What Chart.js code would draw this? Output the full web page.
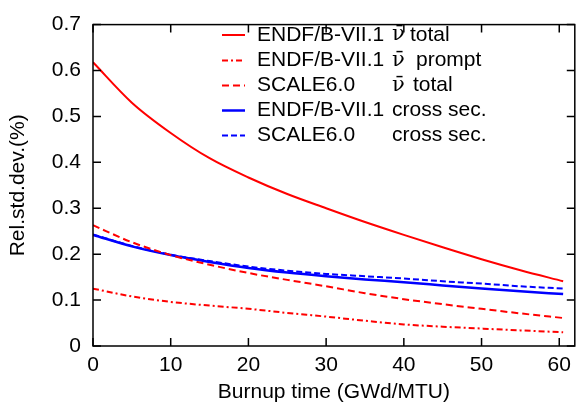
<!DOCTYPE html>
<html>
<head>
    <title>Rel. std. dev. vs burnup</title>
    <style>
        body { margin: 0px; background-color: #ffffff; }
    </style>
    <script src="https://cdn.jsdelivr.net/npm/chart.js"></script>
</head>
<body>
    <canvas id="myChart" width="578" height="412"></canvas>
<script>
// burnup steps (GWd/MTU)
const burnup = [0, 5, 10, 15, 20, 25, 30, 35, 40, 45, 50, 55, 60.5];

// relative standard deviation (%)
const endfNuTotal  = [0.618, 0.530, 0.464, 0.409, 0.367, 0.331, 0.300, 0.270, 0.242, 0.215, 0.189, 0.165, 0.141];
const endfNuPrompt = [0.125, 0.108, 0.096, 0.088, 0.081, 0.072, 0.064, 0.055, 0.047, 0.042, 0.038, 0.034, 0.030];
const scaleNuTotal = [0.263, 0.226, 0.198, 0.177, 0.159, 0.144, 0.130, 0.115, 0.102, 0.091, 0.081, 0.071, 0.061];
const endfXs       = [0.242, 0.217, 0.198, 0.183, 0.170, 0.160, 0.152, 0.145, 0.139, 0.132, 0.125, 0.119, 0.113];
const scaleXs      = [0.243, 0.218, 0.199, 0.185, 0.173, 0.164, 0.157, 0.152, 0.147, 0.141, 0.136, 0.130, 0.125];

// legend text, split into library / symbol / quantity columns
const libraryNames = ['ENDF/B-VII.1', 'ENDF/B-VII.1', 'SCALE6.0', 'ENDF/B-VII.1', 'SCALE6.0'];
const nuSymbols    = ['ν\u0304', 'ν\u0304', 'ν\u0304', '', ''];
const quantities   = ['total', 'prompt', 'total', 'cross sec.', 'cross sec.'];

// axis ticks
const xTicks = [0, 10, 20, 30, 40, 50, 60];
const yTicks = [0, 0.1, 0.2, 0.3, 0.4, 0.5, 0.6, 0.7];

const seriesValues = [endfNuTotal, endfNuPrompt, scaleNuTotal, endfXs, scaleXs];
const seriesStyles = [
    { color: '#ff0000', dash: [], width: 2 },
    { color: '#ff0000', dash: [6, 3, 2, 3], width: 2 },
    { color: '#ff0000', dash: [7, 4], width: 2 },
    { color: '#0000ff', dash: [], width: 2.5 },
    { color: '#0000ff', dash: [6, 3], width: 2 }
];

const FONT = 'Liberation Sans';

// frame plus inward ticks on all four sides (gnuplot look)
const framePlugin = {
    id: 'frame',
    afterDatasetsDraw(chart) {
        const ctx = chart.ctx;
        const a = chart.chartArea;
        const xs = chart.scales.x, ys = chart.scales.y;
        const len = 8;
        ctx.save();
        ctx.strokeStyle = '#000';
        ctx.lineWidth = 1.5;
        ctx.setLineDash([]);
        ctx.strokeRect(a.left, a.top, a.right - a.left, a.bottom - a.top);
        ctx.beginPath();
        xTicks.forEach(v => {
            const px = xs.getPixelForValue(v);
            ctx.moveTo(px, a.bottom); ctx.lineTo(px, a.bottom - len);
            ctx.moveTo(px, a.top); ctx.lineTo(px, a.top + len);
        });
        yTicks.forEach(v => {
            const py = ys.getPixelForValue(v);
            ctx.moveTo(a.left, py); ctx.lineTo(a.left + len, py);
            ctx.moveTo(a.right, py); ctx.lineTo(a.right - len, py);
        });
        ctx.stroke();
        ctx.restore();
    }
};

// legend with aligned columns
const legendPlugin = {
    id: 'colLegend',
    afterDraw(chart) {
        const ctx = chart.ctx;
        const rowY = [35, 60.5, 85.5, 110.5, 135.5];
        const restX = [410, 416, 413, 392, 392];
        ctx.save();
        ctx.textBaseline = 'middle';
        ctx.fillStyle = '#000';
        for (let i = 0; i < libraryNames.length; i++) {
            const st = seriesStyles[i];
            const y = rowY[i];
            ctx.strokeStyle = st.color;
            ctx.lineWidth = st.width;
            ctx.setLineDash(st.dash);
            ctx.beginPath();
            ctx.moveTo(222, y); ctx.lineTo(245, y);
            ctx.stroke();
            ctx.font = '21px "' + FONT + '"';
            ctx.fillText(libraryNames[i], 257, y);
            if (nuSymbols[i]) {
                ctx.font = '21px "DejaVu Serif"';
                ctx.fillText(nuSymbols[i], 392, y);
                ctx.font = '21px "' + FONT + '"';
            }
            ctx.fillText(quantities[i], restX[i], y);
        }
        ctx.restore();
    }
};

const ctxMain = document.getElementById('myChart').getContext('2d');

new Chart(ctxMain, {
    type: 'line',
    data: {
        datasets: seriesValues.map((vals, i) => ({
            label: libraryNames[i] + ' ' + nuSymbols[i] + ' ' + quantities[i],
            data: burnup.map((b, j) => ({ x: b, y: vals[j] })),
            borderColor: seriesStyles[i].color,
            borderDash: seriesStyles[i].dash,
            borderWidth: seriesStyles[i].width,
            pointRadius: 0,
            fill: false,
            cubicInterpolationMode: 'monotone'
        }))
    },
    options: {
        responsive: false,
        animation: false,
        layout: { padding: { top: 12, right: 2, left: 0, bottom: 0 } },
        plugins: {
            legend: { display: false },
            tooltip: { enabled: false }
        },
        scales: {
            x: {
                type: 'linear',
                min: 0,
                max: 62,
                afterBuildTicks: scale => { scale.ticks = xTicks.map(v => ({ value: v })); },
                afterFit: scale => { scale.height = 66; },
                grid: { display: false, drawTicks: false },
                border: { display: false },
                ticks: {
                    padding: 7,
                    color: '#000',
                    font: { family: FONT, size: 21 },
                    maxRotation: 0
                },
                title: {
                    display: true,
                    text: 'Burnup time (GWd/MTU)',
                    color: '#000',
                    font: { family: FONT, size: 21 },
                    padding: { top: 0, bottom: 7 }
                }
            },
            y: {
                min: 0,
                max: 0.7,
                afterBuildTicks: scale => { scale.ticks = yTicks.map(v => ({ value: v })); },
                afterFit: scale => { scale.width = 93; },
                grid: { display: false, drawTicks: false },
                border: { display: false },
                ticks: {
                    padding: 12,
                    color: '#000',
                    font: { family: FONT, size: 21 },
                    callback: v => String(Math.round(v * 10) / 10)
                },
                title: {
                    display: true,
                    text: 'Rel.std.dev.(%)',
                    color: '#000',
                    font: { family: FONT, size: 21 },
                    padding: { top: 6, bottom: 0 }
                }
            }
        }
    },
    plugins: [framePlugin, legendPlugin]
});
</script>
</body>
</html>
